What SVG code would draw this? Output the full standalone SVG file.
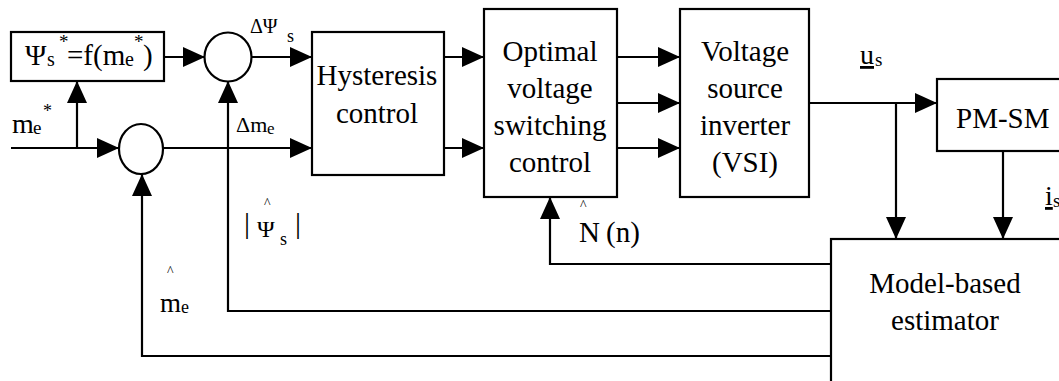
<svg xmlns="http://www.w3.org/2000/svg" width="1059" height="381" viewBox="0 0 1059 381">
<style>
.box{fill:#fff;stroke:#000;stroke-width:2.2}
.ln{fill:none;stroke:#000;stroke-width:2.2}
text{font-family:"Liberation Serif","Times New Roman",serif;fill:#000}
.t{font-size:29px}
.c{text-anchor:middle}
.sub{font-size:19px}
.hat{font-size:14px}
</style>
<defs>
<marker id="ah" markerUnits="userSpaceOnUse" markerWidth="22" markerHeight="20" refX="22" refY="10" orient="auto">
<path d="M0,0 L22,10 L0,20 Z" fill="#000"/>
</marker>
</defs>
<rect width="1059" height="381" fill="#fff"/>

<g id="connectors">
<path class="ln" d="M164,57 H205" marker-end="url(#ah)"/>
<path class="ln" d="M251,57 H312" marker-end="url(#ah)"/>
<path class="ln" d="M11,148 H119" marker-end="url(#ah)"/>
<path class="ln" d="M77,148 V81" marker-end="url(#ah)"/>
<path class="ln" d="M163,148 H312" marker-end="url(#ah)"/>
<path class="ln" d="M444,57 H484" marker-end="url(#ah)"/>
<path class="ln" d="M444,148 H484" marker-end="url(#ah)"/>
<path class="ln" d="M617,57 H680" marker-end="url(#ah)"/>
<path class="ln" d="M617,103 H680" marker-end="url(#ah)"/>
<path class="ln" d="M617,148 H680" marker-end="url(#ah)"/>
<path class="ln" d="M809,103 H937" marker-end="url(#ah)"/>
<path class="ln" d="M896,103 V239" marker-end="url(#ah)"/>
<path class="ln" d="M1003,151 V239" marker-end="url(#ah)"/>
<path class="ln" d="M831,264 H550 V197" marker-end="url(#ah)"/>
<path class="ln" d="M831,311 H228 V81" marker-end="url(#ah)"/>
<path class="ln" d="M831,356 H142 V174" marker-end="url(#ah)"/>
</g>

<g id="fbox">
<rect class="box" x="11" y="32" width="153" height="49"/>
<text class="t" x="25" y="65">Ψ</text>
<text x="47" y="66" font-size="20">s</text>
<text class="sub" x="59" y="48">*</text>
<text class="t" x="67" y="65">=f(m</text>
<text x="125" y="66" font-size="20">e</text>
<text class="sub" x="134" y="48">*</text>
<text class="t" x="143" y="65">)</text>
</g>

<g id="sum1"><ellipse class="box" cx="228" cy="57" rx="23.5" ry="24.5"/></g>
<g id="sum2"><ellipse class="box" cx="141" cy="149" rx="22" ry="25"/></g>

<g id="hyst">
<rect class="box" x="312" y="32" width="132" height="143"/>
<text class="t c" x="377" y="85">Hysteresis</text>
<text class="t c" x="377" y="123">control</text>
</g>

<g id="opt">
<rect class="box" x="484" y="9" width="133" height="188"/>
<text class="t c" x="550" y="61">Optimal</text>
<text class="t c" x="550" y="98">voltage</text>
<text class="t c" x="550" y="135">switching</text>
<text class="t c" x="550" y="172">control</text>
</g>

<g id="vsi">
<rect class="box" x="680" y="9" width="129" height="188"/>
<text class="t c" x="745" y="61">Voltage</text>
<text class="t c" x="745" y="98">source</text>
<text class="t c" x="745" y="135">inverter</text>
<text class="t c" x="745" y="172">(VSI)</text>
</g>

<g id="pmsm">
<rect class="box" x="937" y="79" width="140" height="72"/>
<text class="t" x="956" y="128">PM-SM</text>
</g>

<g id="est">
<rect class="box" x="831" y="239" width="250" height="160"/>
<text class="t c" x="945" y="293">Model-based</text>
<text class="t c" x="945" y="330">estimator</text>
</g>

<g id="labels">
<text x="250" y="33" font-size="20">ΔΨ</text>
<text x="287" y="42" font-size="18">s</text>
<text x="236" y="132" font-size="22">Δm</text>
<text x="267" y="134" font-size="17">e</text>
<text x="12" y="133" font-size="28">m</text>
<text x="33" y="134" font-size="19">e</text>
<text x="43" y="117" font-size="18">*</text>
<text x="860" y="64" font-size="28" text-decoration="underline">u</text>
<text x="875" y="66" font-size="19">s</text>
<text x="1045" y="205" font-size="28" text-decoration="underline">i</text>
<text x="1053" y="207" font-size="19">s</text>
<text class="hat" x="580" y="210">^</text>
<text class="t" x="579" y="242">N</text>
<text class="t" x="606" y="242">(n)</text>
<text x="244" y="233" font-size="30" fill="#444">|</text>
<text class="hat" x="264" y="208">^</text>
<text x="257" y="237" font-size="24">Ψ</text>
<text x="280" y="245" font-size="18">s</text>
<text x="295" y="233" font-size="30" fill="#444">|</text>
<text class="hat" x="167" y="276">^</text>
<text x="160" y="312" font-size="27">m</text>
<text x="181" y="313" font-size="18">e</text>
</g>
</svg>
